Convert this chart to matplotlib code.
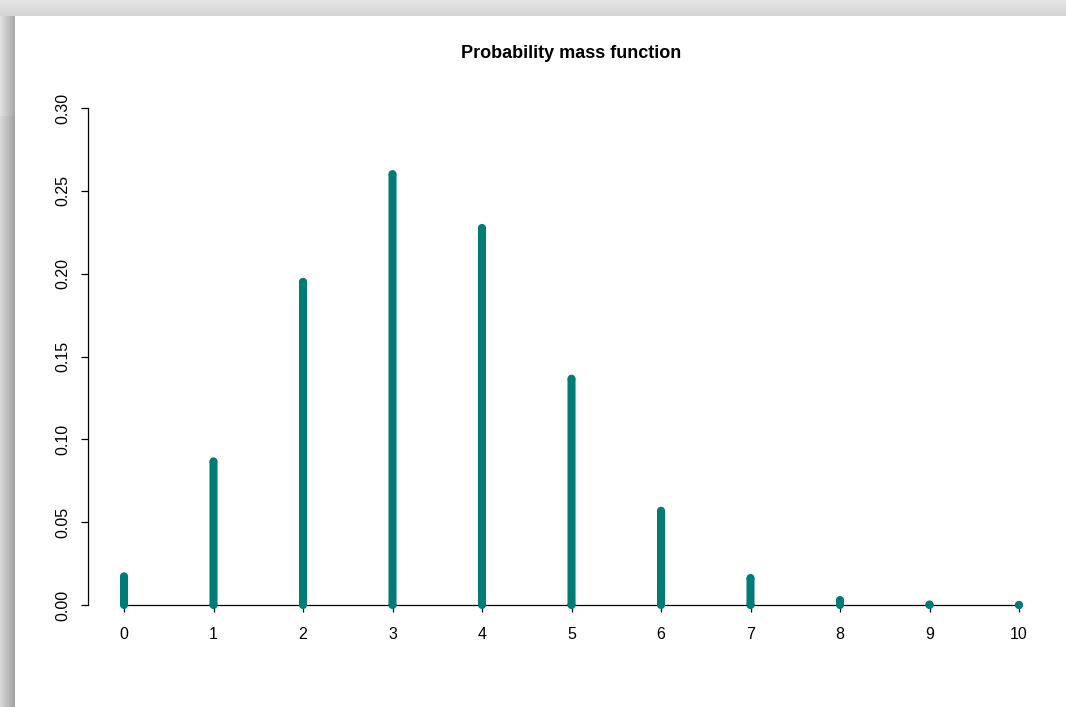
import numpy as np
import matplotlib
matplotlib.use('Agg')
import matplotlib.pyplot as plt

# probability mass values
k = [0, 1, 2, 3, 4, 5, 6, 7, 8, 9, 10]
pmf = [0.0173, 0.0867, 0.1951, 0.2601, 0.2276, 0.1366, 0.0569, 0.0163, 0.0030, 0.0003, 0.00002]
yticks = [0.00, 0.05, 0.10, 0.15, 0.20, 0.25, 0.30]

W, H = 1066, 707
plt.rcParams['font.family'] = ['Liberation Sans', 'DejaVu Sans']

fig = plt.figure(figsize=(W / 100, H / 100), dpi=100, facecolor='white')

# screenshot-style grey frame at top and left
bg = np.ones((H, W, 3))
top = np.linspace(0.90, 0.83, 16)
bg[:16, :, :] = top[:, None, None]
left_a = np.linspace(0.88, 0.66, 15)
left_b = np.linspace(0.85, 0.64, 15)
bg[16:116, :15, :] = left_a[None, :, None]
bg[116:, :15, :] = left_b[None, :, None]
bgax = fig.add_axes([0, 0, 1, 1], zorder=-10)
bgax.imshow(bg, aspect='auto', interpolation='nearest')
bgax.axis('off')

ax = fig.add_axes([88 / W, 1 - 620 / H, (1030 - 88) / W, (620 - 100) / H])
ax.patch.set_alpha(0)

col = '#007b76'
lw = 5.8
stems = ax.vlines(k, 0, pmf, colors=col, linewidth=lw, capstyle='butt', zorder=3)
stems.set_snap(False)
# round ends of each stem (also gives the dots for near-zero values)
ends = ax.scatter(k + k, [0] * len(k) + pmf, s=lw ** 2, color=col,
                  edgecolors='none', zorder=3)
ends.set_snap(False)

ax.set_xlim(-36 / 89.5, 10 + 11 / 89.5)
ax.set_ylim(-15 / 1656.7, 0.30 + 8 / 1656.7)

for s in ['top', 'right']:
    ax.spines[s].set_visible(False)
ax.spines['bottom'].set_position(('data', 0))
ax.spines['bottom'].set_bounds(0, 10)
ax.spines['left'].set_bounds(0, 0.30)
for s in ['bottom', 'left']:
    ax.spines[s].set_linewidth(0.9)
    ax.spines[s].set_zorder(2)

ax.set_xticks(k)
ax.set_xticklabels([str(v) for v in k])
ax.set_yticks(yticks)
ax.set_yticklabels([f'{v:.2f}' for v in yticks], rotation=90, va='center')
ax.tick_params(axis='both', length=5, width=0.9, labelsize=11.5, direction='out')
ax.tick_params(axis='x', pad=11)
ax.tick_params(axis='y', pad=8)

fig.text(571 / W, 1 - 53 / H, 'Probability mass function', ha='center', va='center',
         fontsize=13, fontweight='bold')

fig.savefig('out.png', dpi=100)
